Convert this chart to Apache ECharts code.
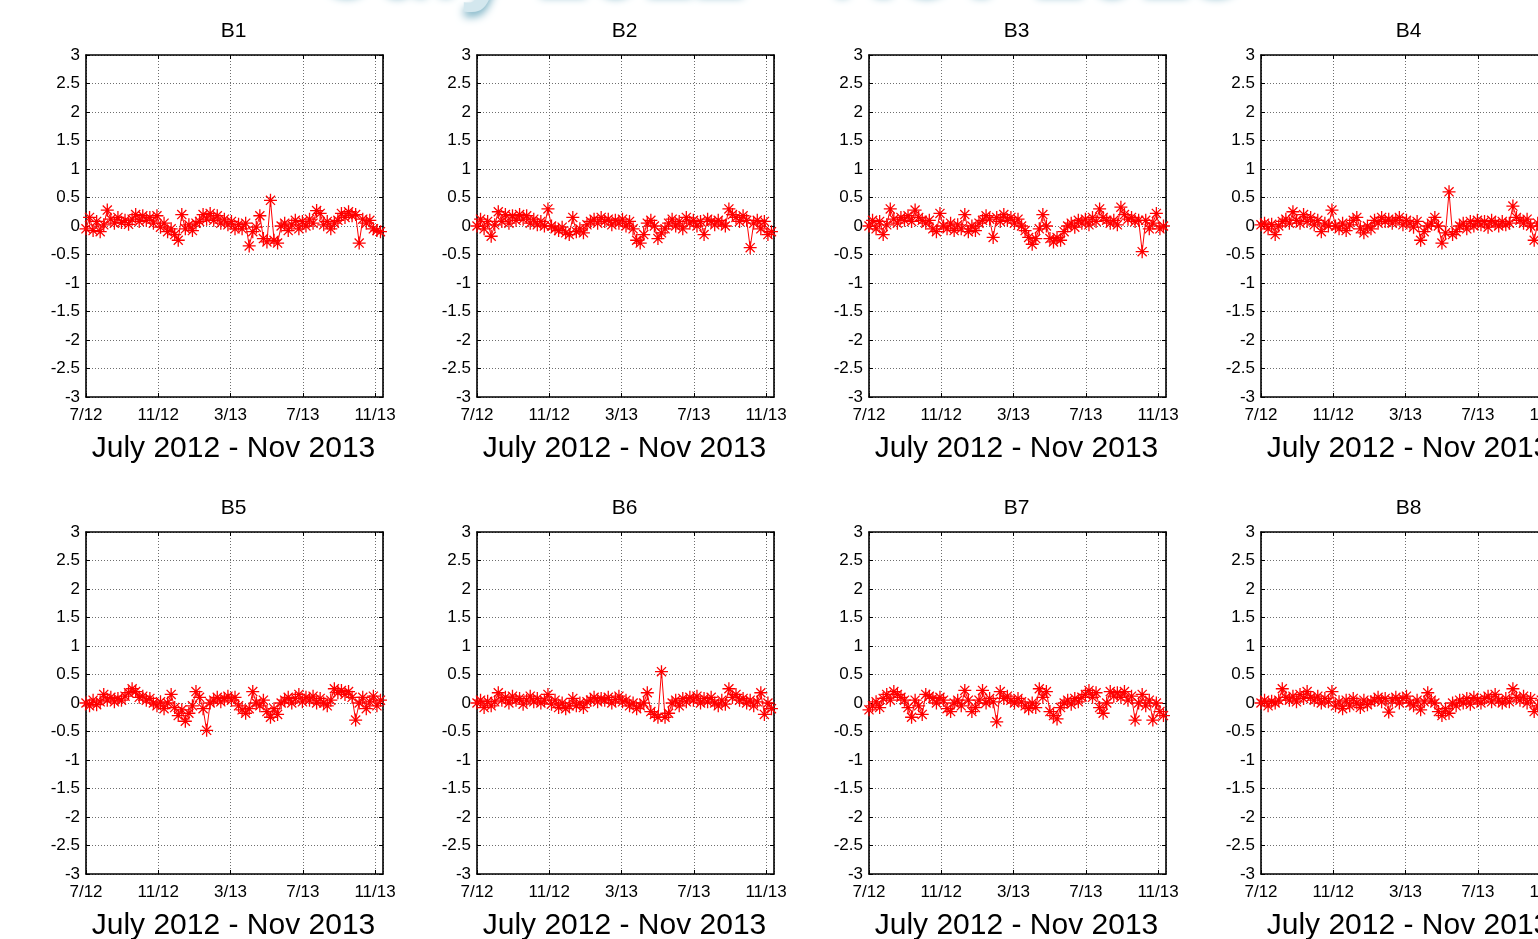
<!DOCTYPE html>
<html><head><meta charset="utf-8">
<script src="https://cdn.jsdelivr.net/npm/echarts@6/dist/echarts.min.js"></script>
<style>html,body{margin:0;padding:0;background:#fff;overflow:hidden}#c{width:1538px;height:939px}</style>
</head><body><div id="c"></div><script>
// ---- data ----
const bannerText = 'July 2012 - Nov 2013';
const panelNames = ['B1','B2','B3','B4','B5','B6','B7','B8'];
const xAxisTitle = 'July 2012 - Nov 2013';
const xTickMonths = [0, 4, 8, 12, 16];
const xTickLabels = ['7/12', '11/12', '3/13', '7/13', '11/13'];
const xMaxMonth = 16.44;      // axis end (mid Nov 2013), months since Jul 2012
const lastSampleMonth = 16.3; // last sample, months since Jul 2012
const yMin = -3, yMax = 3, yStep = 0.5;

const B1 = [-0.05,0.15,-0.08,0.08,-0.1,0.02,0.28,0.12,0.05,0.15,0.06,0.1,0.03,0.12,0.2,0.08,0.18,0.1,0.15,0.05,0.18,-0.02,0.05,-0.1,-0.05,-0.15,-0.25,0.2,-0.05,0.02,-0.08,0.05,0.08,0.2,0.12,0.22,0.1,0.18,0.05,0.12,0.02,0.08,-0.05,0.03,-0.05,0.05,-0.35,-0.1,-0.02,0.18,-0.22,-0.28,0.45,-0.25,-0.3,0.0,0.05,-0.08,0.02,0.1,-0.05,0.08,0.0,0.12,0.05,0.27,0.22,0.02,0.08,-0.05,0.05,0.1,0.22,0.15,0.25,0.18,0.2,-0.3,0.12,0.05,0.1,-0.05,-0.08,-0.1];
const B2 = [0.0,0.12,-0.05,0.08,-0.18,0.02,0.25,0.08,0.2,0.05,0.18,0.1,0.2,0.12,0.18,0.05,0.12,0.02,0.08,0.0,0.3,0.0,-0.05,-0.08,-0.02,-0.12,-0.15,0.15,-0.1,-0.05,-0.12,0.02,0.08,0.12,0.05,0.15,0.08,0.12,0.02,0.1,0.05,0.12,0.0,0.08,-0.05,-0.25,-0.3,-0.15,0.05,0.1,0.0,-0.22,-0.12,-0.05,0.05,0.12,0.0,0.08,-0.05,0.15,0.05,0.1,0.0,0.08,-0.15,0.12,0.08,0.02,0.1,0.05,0.0,0.3,0.2,0.15,0.08,0.18,0.1,-0.38,0.05,0.1,-0.05,0.08,-0.15,-0.1];
const B3 = [0.0,0.1,-0.05,0.08,-0.15,0.02,0.3,0.12,0.05,0.15,0.1,0.18,0.08,0.28,0.15,0.1,0.05,0.1,-0.05,-0.1,0.22,0.0,-0.05,0.05,-0.08,0.02,-0.05,0.2,-0.1,0.0,-0.08,0.05,0.1,0.18,0.12,-0.2,0.15,0.08,0.2,0.1,0.15,0.05,0.12,0.0,-0.08,-0.2,-0.32,-0.22,-0.05,0.2,0.0,-0.22,-0.28,-0.2,-0.25,-0.1,0.0,0.05,-0.02,0.1,0.05,0.12,0.02,0.15,0.08,0.3,0.15,0.1,0.05,0.1,0.02,0.33,0.2,0.12,0.15,0.08,0.1,-0.45,0.1,-0.05,0.05,0.22,-0.05,0.0];
const B4 = [0.02,0.05,-0.05,0.03,-0.15,0.0,0.08,0.12,0.05,0.25,0.1,0.05,0.2,0.08,0.15,0.02,0.1,-0.1,0.05,0.0,0.28,0.0,-0.05,0.05,-0.08,0.02,0.1,0.15,-0.05,-0.12,0.0,-0.05,0.1,0.05,0.15,0.08,0.12,0.05,0.1,0.15,0.02,0.1,0.05,-0.02,0.08,-0.25,-0.1,0.0,0.05,0.15,0.0,-0.3,-0.12,0.6,-0.15,-0.1,0.0,0.05,-0.05,0.08,0.0,0.1,0.02,0.08,-0.02,0.1,0.05,0.0,0.08,0.02,0.05,0.35,0.15,0.1,0.05,0.12,0.0,-0.25,0.05,0.0,-0.05,0.05,0.0,-0.08];
const B5 = [0.0,-0.05,0.05,-0.03,0.02,0.15,0.05,0.1,0.02,0.08,0.05,0.12,0.18,0.25,0.2,0.1,0.12,0.05,0.08,0.0,-0.05,0.02,-0.1,0.0,0.15,-0.08,-0.22,-0.12,-0.32,-0.18,-0.05,0.2,0.1,-0.1,-0.48,0.0,0.05,0.1,0.02,0.08,0.12,0.05,0.1,-0.05,-0.12,-0.18,-0.1,0.2,0.0,-0.05,0.05,-0.15,-0.25,-0.1,-0.2,0.0,0.05,0.1,0.0,0.08,0.15,0.02,0.1,0.05,0.12,0.0,0.08,0.0,-0.05,0.05,0.25,0.18,0.22,0.15,0.2,0.1,-0.3,0.0,0.1,-0.1,0.02,0.12,-0.05,0.05];
const B6 = [0.0,0.05,-0.08,0.03,-0.05,0.02,0.18,0.05,0.1,0.0,0.12,0.05,0.08,-0.02,0.05,0.12,0.02,0.08,0.0,0.05,0.15,-0.02,0.05,-0.08,0.0,-0.1,-0.05,0.08,-0.05,0.0,-0.08,0.02,0.05,0.1,0.02,0.08,0.05,0.1,0.0,0.06,0.12,0.02,0.05,-0.05,0.0,-0.1,-0.05,0.0,0.18,-0.15,-0.2,-0.25,0.55,-0.25,-0.18,0.0,0.05,-0.05,0.08,0.02,0.1,0.05,0.12,0.0,0.08,0.02,0.1,0.0,-0.05,0.05,-0.02,0.25,0.1,0.15,0.05,0.08,0.0,0.05,-0.05,0.02,0.18,-0.2,0.0,-0.1];
const B7 = [-0.12,-0.05,0.02,-0.08,0.08,0.15,0.05,0.2,0.15,0.1,0.05,-0.08,-0.25,0.05,-0.05,-0.2,0.15,0.12,0.08,0.0,0.1,0.05,-0.1,-0.15,0.0,0.05,-0.05,0.22,0.05,-0.15,-0.08,0.05,0.22,0.0,0.08,0.02,-0.33,0.2,0.08,0.12,0.05,0.0,0.08,0.02,-0.05,-0.1,0.0,-0.08,0.25,0.1,0.2,-0.15,-0.22,-0.28,-0.08,0.0,0.05,-0.02,0.08,0.02,0.1,0.15,0.22,0.1,0.18,-0.08,-0.18,0.0,0.2,0.12,0.18,0.1,0.2,0.05,0.12,-0.3,0.0,0.15,-0.05,0.05,-0.3,0.0,-0.15,-0.22];
const B8 = [0.0,0.05,-0.05,0.03,0.0,0.05,0.25,0.1,0.05,0.12,0.02,0.15,0.08,0.2,0.1,0.05,0.12,0.0,0.08,0.02,0.2,-0.05,0.02,-0.1,0.05,-0.05,0.08,0.0,-0.08,0.05,-0.03,0.02,0.05,0.1,0.02,0.08,-0.16,0.05,0.1,0.0,0.08,0.12,0.0,-0.05,0.05,-0.12,0.02,0.18,0.05,0.0,-0.15,-0.22,-0.1,-0.18,0.0,-0.05,0.05,0.0,0.08,-0.02,0.1,0.05,0.0,0.08,0.12,0.02,0.15,0.05,0.0,0.08,0.02,0.25,0.1,0.05,0.12,0.0,0.08,-0.15,-0.05,0.05,0.0,-0.05,0.05,0.0];
const seriesValues = [B1, B2, B3, B4, B5, B6, B7, B8];

// ---- layout ----
const colLeft = [86, 477, 869, 1261];
const rowTop = [55, 532];
const plotW = 297, plotH = 342;
const FONT = '"Liberation Sans", Arial, sans-serif';
const star = 'path://M4.5,0L5.5,0L5.5,10L4.5,10Z M0,4.5L10,4.5L10,5.5L0,5.5Z M1.85,1.15L8.85,8.15L8.15,8.85L1.15,1.85Z M8.85,1.85L1.85,8.85L1.15,8.15L8.15,1.15Z';

const grids = [], xAxes = [], yAxes = [], series = [], graphics = [];
const boxLine = {show: true, onZero: false, lineStyle: {color: '#000', width: 1.6}};
const tick = {show: true, inside: true, length: 4, lineStyle: {color: '#000', width: 1}};
const split = {show: true, lineStyle: {color: '#6e6e6e', width: 1, type: [1, 2]}};

panelNames.forEach((name, p) => {
  const left = colLeft[p % 4], top = rowTop[Math.floor(p / 4)];
  grids.push({left: left, top: top, width: plotW, height: plotH, containLabel: false, outerBoundsMode: 'none'});
  const xBase = {type: 'value', gridIndex: p, min: 0, max: xMaxMonth, interval: 4};
  xAxes.push(Object.assign({}, xBase, {
    position: 'bottom', axisLine: boxLine, axisTick: tick, splitLine: split,
    axisLabel: {show: true, color: '#000', fontSize: 17, fontFamily: FONT, margin: 10,
      showMaxLabel: false,
      formatter: v => { const k = xTickMonths.indexOf(v); return k >= 0 ? xTickLabels[k] : ''; }}
  }));
  xAxes.push(Object.assign({}, xBase, {
    position: 'top', axisLine: boxLine, axisTick: tick, splitLine: {show: false}, axisLabel: {show: false}
  }));
  const yBase = {type: 'value', gridIndex: p, min: yMin, max: yMax, interval: yStep};
  yAxes.push(Object.assign({}, yBase, {
    position: 'left', axisLine: boxLine, axisTick: tick, splitLine: split,
    axisLabel: {show: true, color: '#000', fontSize: 17, fontFamily: FONT, margin: 6}
  }));
  yAxes.push(Object.assign({}, yBase, {
    position: 'right', axisLine: boxLine, axisTick: tick, splitLine: {show: false}, axisLabel: {show: false}
  }));
  const vals = seriesValues[p];
  const step = lastSampleMonth / (vals.length - 1);
  series.push({
    type: 'line', name: name, xAxisIndex: 2 * p, yAxisIndex: 2 * p,
    data: vals.map((v, i) => [i * step, v]),
    symbol: star, symbolSize: 13, showSymbol: true, showAllSymbol: true,
    lineStyle: {color: '#ff0000', width: 1}, itemStyle: {color: '#ff0000'},
    emphasis: {disabled: true}, clip: true, animation: false
  });
  const cx = left + plotW / 2;
  graphics.push({type: 'text', x: cx - 1, y: top - 24, style: {text: name, font: '21px ' + FONT, fill: '#000', align: 'center', verticalAlign: 'middle'}});
  graphics.push({type: 'text', x: cx - 1, y: top + plotH + 52, style: {text: xAxisTitle, font: '30px ' + FONT, fill: '#000', align: 'center', verticalAlign: 'middle'}});
});

graphics.push({type: 'text', x: 783, y: -34, z: 10, style: {
  text: bannerText, font: 'bold 94px ' + FONT, fill: '#d3e7ee', align: 'center', verticalAlign: 'middle',
  textShadowColor: '#7fb4c6', textShadowBlur: 8, textShadowOffsetY: 5}});

const chart = echarts.init(document.getElementById('c'), null, {renderer: 'canvas'});
chart.setOption({
  animation: false, backgroundColor: '#fff',
  grid: grids, xAxis: xAxes, yAxis: yAxes, series: series,
  graphic: {elements: graphics}
});
</script></body></html>
